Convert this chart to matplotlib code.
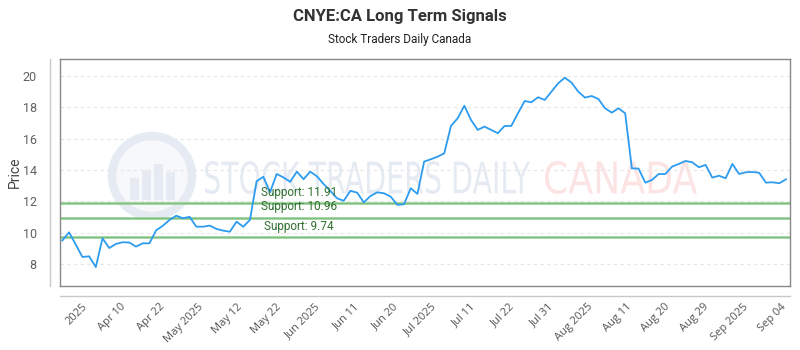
import matplotlib
matplotlib.use("Agg")
import matplotlib.pyplot as plt
import numpy as np
from matplotlib.textpath import TextPath
from matplotlib.patches import PathPatch, Circle, Rectangle
from matplotlib.transforms import Affine2D
from matplotlib.font_manager import FontProperties

# ---- data ----
prices = [
    9.50, 10.02, 9.25, 8.45, 8.49, 7.81, 9.64, 9.02, 9.28, 9.39,
    9.37, 9.11, 9.32, 9.32, 10.15, 10.44, 10.81, 11.08, 10.92, 11.01,
    10.38, 10.38, 10.45, 10.24, 10.13, 10.06, 10.70, 10.38, 10.81, 13.28,
    13.56, 12.58, 13.74, 13.52, 13.24, 13.89, 13.41, 13.89, 13.59, 13.10,
    12.66, 12.19, 12.03, 12.67, 12.55, 11.93, 12.34, 12.57, 12.51, 12.30,
    11.77, 11.81, 12.83, 12.47, 14.53, 14.68, 14.84, 15.06, 16.80, 17.29,
    18.09, 17.18, 16.55, 16.76, 16.55, 16.34, 16.80, 16.80, 17.61, 18.39,
    18.31, 18.63, 18.46, 18.99, 19.52, 19.88, 19.56, 18.99, 18.61, 18.71,
    18.52, 17.93, 17.65, 17.93, 17.61, 14.10, 14.08, 13.19, 13.36, 13.74,
    13.74, 14.21, 14.38, 14.57, 14.49, 14.17, 14.32, 13.51, 13.63, 13.47,
    14.38, 13.74, 13.85, 13.87, 13.82, 13.19, 13.21, 13.15, 13.40,
]
tick_labels = ["2025", "Apr 10", "Apr 22", "May 2025", "May 12", "May 22",
               "Jun 2025", "Jun 11", "Jun 20", "Jul 2025", "Jul 11", "Jul 22",
               "Jul 31", "Aug 2025", "Aug 11", "Aug 20", "Aug 29", "Sep 2025",
               "Sep 04"]
support_levels = [11.91, 10.96, 9.74]
support_labels = ["Support: 11.91", "Support: 10.96", "Support: 9.74"]
title = "CNYE:CA Long Term Signals"
subtitle = "Stock Traders Daily Canada"

W, H = 800, 350
fig = plt.figure(figsize=(8, 3.5), dpi=100)
fig.patch.set_facecolor("white")

L, R, T, B = 60.3, 790, 59.3, 286
ax = fig.add_axes([L / W, 1 - B / H, (R - L) / W, (B - T) / H])
ax.set_facecolor("none")

x = np.arange(len(prices))

# ---- watermark ----
def path_text(s, x0, y0, w, h, color, family="DejaVu Sans", weight="normal"):
    tp = TextPath((0, 0), s, size=1, prop=FontProperties(family=family, weight=weight))
    ext = tp.get_extents()
    sx = w / ext.width
    sy = h / ext.height
    tr = Affine2D().translate(-ext.x0, -ext.y0).scale(sx, sy).translate(x0, H - y0)
    p = PathPatch(tp, transform=tr, facecolor=color, edgecolor="none", zorder=0)
    fig.add_artist(p)

path_text("STOCK TRADERS DAILY", 205, 194, 325, 33, "#e6ebf3")
path_text("CANADA", 545, 194, 152, 33, "#fde4e4")
# logo
cx, cy, r = 152, H - 176, 40
fig.add_artist(Circle((cx, cy), r, transform=None, facecolor="#f6f8fb",
                      edgecolor="#e6ebf3", lw=6, zorder=0))
for bx, bh in [(-22, 22), (-10, 30), (2, 36), (14, 28)]:
    fig.add_artist(Rectangle((cx + bx, cy - 24), 9, bh, transform=None,
                             facecolor="#e6ebf3", edgecolor="none", zorder=0))

# ---- grid ----
for yv in range(8, 21, 2):
    ax.axhline(yv, color="#e6e6e6", lw=0.8, ls=(0, (3, 3)), zorder=1)

# ---- support lines ----
for lvl, lab in zip(support_levels, support_labels):
    ax.axhline(lvl, color="#9dd19d", lw=2, zorder=2)
    ax.axhline(lvl, color="#7fbf7f", lw=0.7, zorder=2)
    ax.annotate(lab, xy=(35.3, lvl), xytext=(0, 3), textcoords="offset points",
                ha="center", va="bottom", color="#2f6f2f", fontsize=8.5,
                family="Roboto", zorder=4)

# ---- price line ----
ax.plot(x, prices, color="#2d9cf0", lw=1.3, zorder=3)

ax.set_xlim(-0.3, 108.6)
ax.set_ylim(6.6, 21.05)

for s in ax.spines.values():
    s.set_color("#888888")
    s.set_linewidth(1)

ax.set_yticks(range(8, 21, 2))
ax.tick_params(axis="y", length=0, pad=17, labelsize=9, labelcolor="#606060")
for t in ax.get_yticklabels():
    t.set_family("Roboto")

tick_pos = 2.9 + 5.8 * np.arange(len(tick_labels))
ax.set_xticks(tick_pos)
ax.set_xticklabels(tick_labels, rotation=45, ha="right", rotation_mode="anchor",
                   fontsize=8, color="#555555", family="Open Sans")
ax.tick_params(axis="x", length=0, pad=11)

ax.set_ylabel("Price", fontsize=10, color="#444444", family="Roboto")
ax.yaxis.set_label_coords((22 - L) / (R - L), 0.5)

# extra axis lines (offset)
ax.plot([-(L - 50) / (R - L)] * 2, [0, 1], transform=ax.transAxes,
        color="#c8c8c8", lw=1, clip_on=False)
ax.plot([0, 1], [-(296 - B) / (B - T)] * 2, transform=ax.transAxes,
        color="#c8c8c8", lw=1, clip_on=False)

fig.text(0.5, 1 - 16 / H, title, ha="center", va="center", fontsize=12,
         fontweight="bold", color="#333333", family="Roboto")
fig.text(0.5, 1 - 40 / H, subtitle, ha="center", va="center", fontsize=8.5,
         color="#222222", family="Roboto")

fig.savefig("out.png", dpi=100, facecolor="white")
